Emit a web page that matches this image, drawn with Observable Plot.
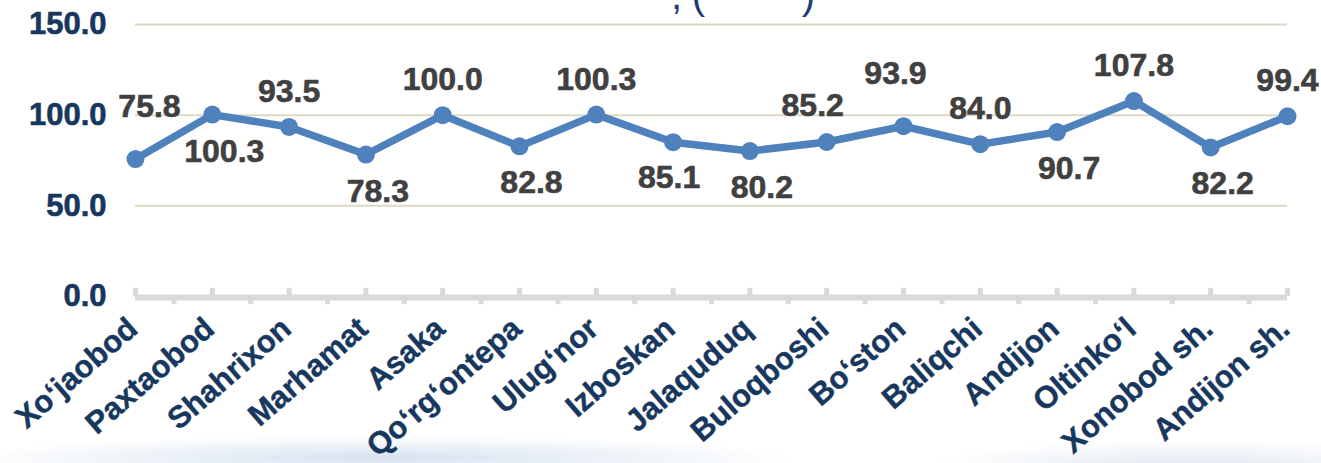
<!DOCTYPE html>
<html>
<head>
<meta charset="utf-8">
<script src="https://cdn.jsdelivr.net/npm/d3@7"></script>
<script src="https://cdn.jsdelivr.net/npm/@observablehq/plot@0.6"></script>
<style>
  html, body { margin: 0; padding: 0; }
  body {
    width: 1321px; height: 463px; overflow: hidden;
    background:
      radial-gradient(ellipse 420px 22px at 380px 458px, rgba(175,198,226,0.5), rgba(255,255,255,0) 100%),
      radial-gradient(ellipse 260px 26px at 1190px 466px, rgba(200,212,228,0.55), rgba(255,255,255,0) 100%),
      #ffffff;
  }
  #chart svg { display: block; }
</style>
</head>
<body>
<div id="chart"></div>
<script>
const categories = ["Xo\u2018jaobod", "Paxtaobod", "Shahrixon", "Marhamat", "Asaka", "Qo\u2018rg\u2018ontepa", "Ulug\u2018nor", "Izboskan", "Jalaquduq", "Buloqboshi", "Bo\u2018ston", "Baliqchi", "Andijon", "Oltinko\u2018l", "Xonobod sh.", "Andijon sh."];
const values = [75.8, 100.3, 93.5, 78.3, 100.0, 82.8, 100.3, 85.1, 80.2, 85.2, 93.9, 84.0, 90.7, 107.8, 82.2, 99.4];
const labelPlacement = ["above-right", "below", "above", "below", "above", "below", "above", "below-left", "below", "above-left", "above-high", "above", "below", "above", "below", "above"];
const yTicks = [0, 50, 100, 150];
const titleVisible = [",", "(", ")"];

// placement keyword -> label offset (pixels)
const placementOffsets = {
  "above": {dx: 0, dy: -25},
  "above-left": {dx: -14, dy: -26},
  "above-right": {dx: 14, dy: -42},
  "above-high": {dx: -8, dy: -42},
  "below": {dx: 12, dy: 47},
  "below-left": {dx: -4, dy: 46}
};

const data = categories.map((name, i) => ({i, name, value: values[i], place: labelPlacement[i]}));
const idx = data.map(d => d.i);
const mids = idx.slice(1).map(i => i - 0.5);

const font = "'Liberation Sans', Arial, Helvetica, sans-serif";
const navy = "#17375e";
const gray = "#404040";

const valueLabels = Object.entries(placementOffsets).map(([key, off]) =>
  Plot.text(data.filter(d => d.place === key), {
    x: "i", y: "value", text: d => d.value.toFixed(1), dx: off.dx, dy: off.dy, lineAnchor: "bottom",
    fontSize: 32, fontWeight: "bold", fill: gray, stroke: gray, strokeWidth: 0.6
  })
);

const chart = Plot.plot({
  width: 1321,
  height: 463,
  marginLeft: 135,
  marginRight: 34,
  marginTop: 24,
  marginBottom: 167,
  x: {type: "linear", domain: [0, categories.length - 1], axis: null},
  y: {domain: [0, 150], axis: null},
  style: {fontFamily: font, background: "transparent", overflow: "visible"},
  marks: [
    Plot.ruleY(yTicks.filter(d => d > 0), {y: d => d, stroke: "#ddd9c3", strokeWidth: 2}),
    Plot.ruleY([0], {y: d => d, stroke: "#d9d9d9", strokeWidth: 6, dy: 1}),
    Plot.ruleX(idx, {x: d => d, y1: 0, y2: 4.5, stroke: "#d9d9d9", strokeWidth: 5}),
    Plot.ruleX(mids, {x: d => d, y1: 0, y2: -4.5, stroke: "#d9d9d9", strokeWidth: 5}),
    Plot.line(data, {x: "i", y: "value", stroke: "#4f81bd", strokeWidth: 7.5, strokeLinejoin: "round"}),
    Plot.dot(data, {x: "i", y: "value", r: 9, fill: "#4f81bd", stroke: "none"}),
    ...valueLabels,
    Plot.text(yTicks, {
      y: d => d, frameAnchor: "left", dx: -29, textAnchor: "end", text: d => d.toFixed(1),
      fontSize: 31, fontWeight: "bold", fill: navy, stroke: navy, strokeWidth: 0.6
    }),
    Plot.text(data, {
      x: "i", y: 0, text: "name", rotate: -41, textAnchor: "end", lineAnchor: "bottom",
      dx: 4, dy: 35, fontSize: 31, fontWeight: "bold", fill: navy, stroke: navy, strokeWidth: 0.4
    }),
    Plot.text([titleVisible[0]], {frameAnchor: "top", text: d => d, dx: -35, dy: -16, lineAnchor: "bottom", fontSize: 40, fill: "#1f3a78"}),
    Plot.text([titleVisible[1]], {frameAnchor: "top", text: d => d, dx: -13, dy: -16, lineAnchor: "bottom", fontSize: 40, fill: "#1f3a78"}),
    Plot.text([titleVisible[2]], {frameAnchor: "top", text: d => d, dx: 97, dy: -16, lineAnchor: "bottom", fontSize: 40, fill: "#1f3a78"})
  ]
});
document.getElementById("chart").appendChild(chart);
</script>
</body>
</html>
